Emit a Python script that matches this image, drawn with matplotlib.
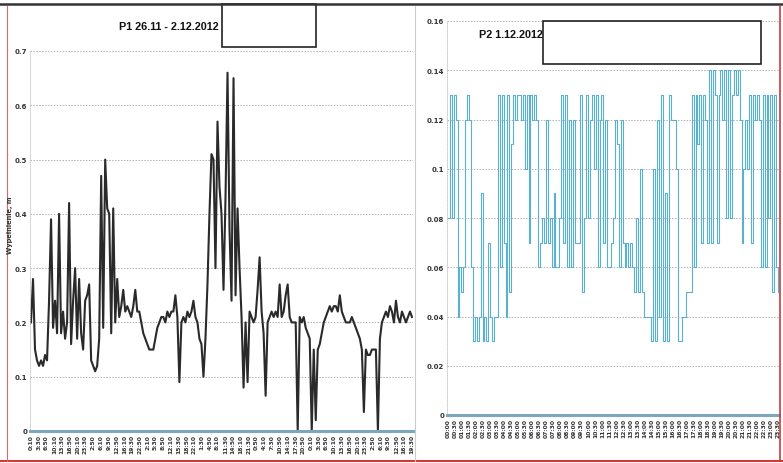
import numpy as np
import matplotlib
matplotlib.use("Agg")
import matplotlib.pyplot as plt
from matplotlib.patches import Rectangle

# P1: filling level over the week 26.11 - 2.12.2012
p1_values = [
    0.20, 0.28, 0.15, 0.13, 0.12, 0.13, 0.12, 0.14, 0.13, 0.24,
    0.39, 0.19, 0.24, 0.18, 0.40, 0.18, 0.22, 0.17, 0.20, 0.42,
    0.16, 0.24, 0.30, 0.17, 0.28, 0.18, 0.15, 0.24, 0.25, 0.27,
    0.13, 0.12, 0.11, 0.12, 0.17, 0.47, 0.19, 0.50, 0.41, 0.40,
    0.18, 0.41, 0.20, 0.28, 0.21, 0.23, 0.26, 0.22, 0.23, 0.22,
    0.21, 0.23, 0.26, 0.22, 0.22, 0.20, 0.18, 0.17, 0.16, 0.15,
    0.15, 0.15, 0.17, 0.19, 0.20, 0.21, 0.21, 0.20, 0.22, 0.21,
    0.22, 0.22, 0.25, 0.21, 0.09, 0.20, 0.21, 0.20, 0.22, 0.21,
    0.22, 0.24, 0.21, 0.20, 0.17, 0.16, 0.10, 0.17, 0.27, 0.40,
    0.51, 0.50, 0.30, 0.57, 0.45, 0.40, 0.26, 0.43, 0.66, 0.37,
    0.24, 0.65, 0.25, 0.41, 0.30, 0.21, 0.08, 0.20, 0.09, 0.22,
    0.21, 0.20, 0.21, 0.26, 0.32, 0.22, 0.18, 0.065, 0.20, 0.21,
    0.22, 0.21, 0.22, 0.21, 0.27, 0.21, 0.22, 0.25, 0.27, 0.21,
    0.20, 0.20, 0.20, 0.0, 0.21, 0.20, 0.21, 0.19, 0.18, 0.17,
    0.0, 0.15, 0.02, 0.15, 0.16, 0.18, 0.20, 0.21, 0.22, 0.23,
    0.22, 0.23, 0.23, 0.22, 0.25, 0.22, 0.21, 0.20, 0.20, 0.20,
    0.21, 0.20, 0.19, 0.18, 0.17, 0.15, 0.035, 0.15, 0.14, 0.14,
    0.15, 0.15, 0.15, 0.0, 0.17, 0.20, 0.21, 0.22, 0.21, 0.23,
    0.22, 0.20, 0.24, 0.21, 0.20, 0.22, 0.21, 0.20, 0.21, 0.22,
    0.21,
]

# P2: filling level on 1.12.2012
p2_values = [
    0.08, 0.13, 0.08, 0.13, 0.12, 0.04, 0.06, 0.05, 0.06, 0.12,
    0.13, 0.12, 0.06, 0.03, 0.04, 0.03, 0.04, 0.09, 0.03, 0.04,
    0.03, 0.07, 0.04, 0.03, 0.04, 0.04, 0.13, 0.06, 0.13, 0.07,
    0.04, 0.13, 0.05, 0.11, 0.13, 0.12, 0.13, 0.13, 0.12, 0.13,
    0.10, 0.13, 0.07, 0.13, 0.12, 0.13, 0.12, 0.06, 0.07, 0.08,
    0.07, 0.12, 0.07, 0.08, 0.06, 0.09, 0.06, 0.06, 0.08, 0.13,
    0.07, 0.13, 0.06, 0.12, 0.06, 0.12, 0.07, 0.07, 0.07, 0.13,
    0.05, 0.08, 0.13, 0.08, 0.12, 0.13, 0.10, 0.13, 0.06, 0.12,
    0.13, 0.07, 0.12, 0.06, 0.06, 0.07, 0.08, 0.12, 0.11, 0.06,
    0.12, 0.07, 0.06, 0.07, 0.06, 0.07, 0.06, 0.05, 0.08, 0.05,
    0.10, 0.05, 0.04, 0.04, 0.04, 0.04, 0.03, 0.10, 0.03, 0.12,
    0.04, 0.13, 0.03, 0.09, 0.03, 0.13, 0.12, 0.12, 0.12, 0.10,
    0.03, 0.03, 0.04, 0.04, 0.05, 0.05, 0.05, 0.13, 0.06, 0.13,
    0.11, 0.13, 0.07, 0.13, 0.12, 0.07, 0.14, 0.07, 0.14, 0.13,
    0.07, 0.13, 0.14, 0.12, 0.14, 0.08, 0.14, 0.08, 0.13, 0.14,
    0.13, 0.14, 0.12, 0.07, 0.10, 0.12, 0.10, 0.13, 0.07, 0.13,
    0.12, 0.13, 0.12, 0.06, 0.13, 0.06, 0.13, 0.08, 0.13, 0.05,
    0.13, 0.06, 0.05,
]

# tick labels (times)
p1_ticklabels = ["%d:%02d" % (((m // 60) % 24), m % 60) for m in range(10, 10 + 50 * 200, 200)]
p2_ticklabels = ["%02d:%02d" % (m // 60, m % 60) for m in range(0, 24 * 60, 30)]

p1_title = "P1 26.11 - 2.12.2012"
p2_title = "P2 1.12.2012"
ylabel = "Wypełnienie, m"

W, H = 783, 464
fig = plt.figure(figsize=(W / 100, H / 100), dpi=100)
fig.patch.set_facecolor("white")


def fx(px):
    return px / W


def fy(py):
    return 1 - py / H


def style_axis(ax, ymax, ystep, yfmt):
    ax.set_ylim(0, ymax)
    ticks = np.arange(0, ymax + ystep / 2, ystep)
    ax.set_yticks(ticks)
    ax.set_yticklabels([yfmt(t) for t in ticks], fontsize=5, fontweight="bold", color="#333333")
    ax.grid(axis="y", color="#b0b0b0", linestyle=(0, (1.5, 1.5)), linewidth=0.7)
    for s in ["top", "right"]:
        ax.spines[s].set_visible(False)
    ax.spines["left"].set_color("#c4c4c4")
    ax.spines["left"].set_linestyle((0, (1, 1.5)))
    ax.spines["left"].set_linewidth(0.6)
    ax.spines["bottom"].set_color("#7ea6bd")
    ax.spines["bottom"].set_linewidth(2.2)
    ax.tick_params(axis="both", length=0, pad=2)
    ax.set_axisbelow(True)


def fmt_p1(t):
    return "0" if t == 0 else ("%.1f" % t)


def fmt_p2(t):
    return "0" if t == 0 else ("%g" % round(t, 2))


# left panel
ax1 = fig.add_axes([fx(30), fy(432), fx(413 - 30), fy(52) - fy(432)])
x1 = np.arange(len(p1_values))
ax1.plot(x1, p1_values, color="#2a2a2a", linewidth=1.5)
ax1.set_xlim(-0.5, len(p1_values) - 0.5)
style_axis(ax1, 0.7, 0.1, fmt_p1)
ax1.set_xticks(np.linspace(0, len(p1_values) - 1, len(p1_ticklabels)))
ax1.set_xticklabels(p1_ticklabels, rotation=90, fontsize=4.3, fontweight="bold", color="#333333")

# right panel
ax2 = fig.add_axes([fx(447), fy(416), fx(779 - 447), fy(22) - fy(416)])
x2 = np.arange(len(p2_values))
ax2.plot(x2, p2_values, color="#5ab0d0", linewidth=0.8, drawstyle="steps-post")
ax2.set_xlim(-0.5, len(p2_values) - 0.5)
style_axis(ax2, 0.16, 0.02, fmt_p2)
ax2.set_xticks(np.linspace(0, len(p2_values) - 1, len(p2_ticklabels)))
ax2.set_xticklabels(p2_ticklabels, rotation=90, fontsize=4.3, fontweight="bold", color="#333333")

# titles with empty boxes (as on the scan)
fig.text(fx(219), fy(27), p1_title, ha="right", va="center", fontsize=7.8,
         fontweight="bold", family="Liberation Sans", color="#111111")
fig.patches.append(Rectangle((fx(222), fy(48)), fx(316 - 222), fy(5) - fy(48),
                             transform=fig.transFigure, fill=False, edgecolor="#222222", linewidth=1.2))
fig.text(fx(543), fy(35), p2_title, ha="right", va="center", fontsize=7.8,
         fontweight="bold", family="Liberation Sans", color="#111111")
fig.patches.append(Rectangle((fx(543), fy(65)), fx(761 - 543), fy(22) - fy(65),
                             transform=fig.transFigure, fill=False, edgecolor="#222222", linewidth=1.2))

fig.text(fx(10), fy(225), ylabel, rotation=90, ha="center", va="center",
         fontsize=4.8, fontweight="bold", color="#333333")

# scan frame lines
fig.add_artist(plt.Line2D([0, 1], [fy(5), fy(5)], transform=fig.transFigure, color="#333333", linewidth=1.8))
fig.add_artist(plt.Line2D([0, 1], [fy(462), fy(462)], transform=fig.transFigure, color="#d23a3a", linewidth=1.5))
fig.add_artist(plt.Line2D([fx(7), fx(7)], [fy(462), fy(7)], transform=fig.transFigure, color="#d86a6a", linewidth=0.8))
fig.add_artist(plt.Line2D([fx(780), fx(780)], [fy(462), fy(7)], transform=fig.transFigure, color="#c83a3a", linewidth=1.2))
fig.add_artist(plt.Line2D([fx(415), fx(415)], [fy(462), fy(7)], transform=fig.transFigure, color="#cccccc", linewidth=0.8))

fig.savefig("out.png", dpi=100)
